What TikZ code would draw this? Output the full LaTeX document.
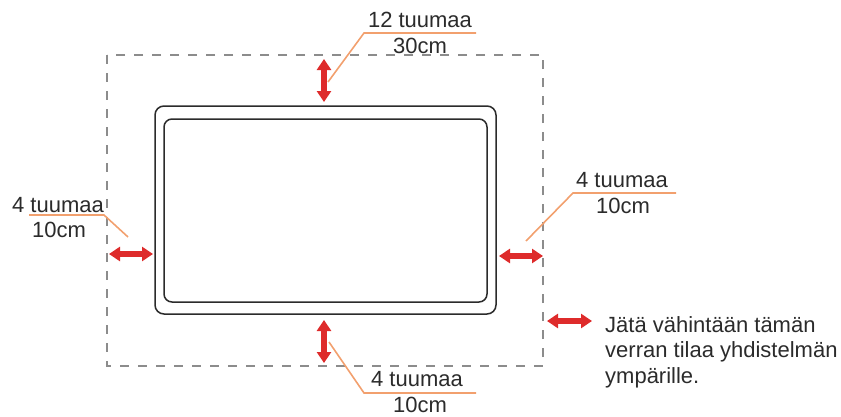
\documentclass[tikz,border=0pt]{standalone}
\usepackage{fontspec}
\setmainfont{Liberation Sans}
\usetikzlibrary{arrows.meta}

\definecolor{gapred}{HTML}{DE2B2B}
\definecolor{leaderorange}{HTML}{F2A06E}
\definecolor{dashgray}{HTML}{8C8C8C}
\definecolor{textgray}{HTML}{2B2B2B}

\tikzset{
	gaparrow/.style={draw=gapred, line width=5.5pt, {Triangle[width=14pt,length=11pt]}-{Triangle[width=14pt,length=11pt]}},
	leader/.style={draw=leaderorange, line width=1.6pt},
	dimtext/.style={text=textgray, font=\fontsize{22}{25.5}\selectfont, anchor=base, inner sep=0pt},
}

\begin{document}
\begin{tikzpicture}[x=1pt,y=-1pt]
	\useasboundingbox (0,0) rectangle (841,416);
	% free space and the unit
	\draw [dashgray, line width=2pt, dash pattern=on 9pt off 9pt] (107,55) rectangle (543,366);
	\draw [textgray, line width=1.5pt, rounded corners=9pt] (155,106) rectangle (496,314);
	\draw [textgray, line width=1.5pt, rounded corners=8pt] (164,119) rectangle (487,302);
	% top
	\coordinate (topa) at (324,59);
	\coordinate (topb) at (324,102);
	\coordinate (topleader) at (328,82);
	\coordinate (topkink) at (364,33);
	\node [dimtext] (topinch) at (420,27) {12 tuumaa};
	\node [dimtext] (topcm) at (420,53) {30cm};
	\coordinate (topend) at (476,33);
	\draw [gaparrow] (topa) -- (topb);
	\draw [leader] (topleader) -- (topkink) -- (topend);
	% left
	\coordinate (lefta) at (109,254);
	\coordinate (leftb) at (153,254);
	\coordinate (leftleader) at (128,237);
	\coordinate (leftkink) at (104,215);
	\coordinate (leftend) at (29,215);
	\node [dimtext] (leftinch) at (58,212) {4 tuumaa};
	\node [dimtext] (leftcm) at (59,237) {10cm};
	\draw [gaparrow] (lefta) -- (leftb);
	\draw [leader] (leftleader) -- (leftkink) -- (leftend);
	% right
	\coordinate (righta) at (499,256);
	\coordinate (rightb) at (543,256);
	\coordinate (rightleader) at (526,241);
	\coordinate (rightkink) at (573,193);
	\coordinate (rightend) at (676,193);
	\node [dimtext] (rightinch) at (622,187) {4 tuumaa};
	\node [dimtext] (rightcm) at (623,213) {10cm};
	\draw [gaparrow] (righta) -- (rightb);
	\draw [leader] (rightleader) -- (rightkink) -- (rightend);
	% bottom
	\coordinate (bottoma) at (324,320);
	\coordinate (bottomb) at (324,363);
	\coordinate (bottomleader) at (329,342);
	\coordinate (bottomkink) at (364,393);
	\coordinate (bottomend) at (476,393);
	\node [dimtext] (bottominch) at (417,386) {4 tuumaa};
	\node [dimtext] (bottomcm) at (420,412) {10cm};
	\draw [gaparrow] (bottoma) -- (bottomb);
	\draw [leader] (bottomleader) -- (bottomkink) -- (bottomend);
	% legend (base is the last line)
	\coordinate (keya) at (547,321);
	\coordinate (keyb) at (592,321);
	\draw [gaparrow] (keya) -- (keyb);
	\node [dimtext, anchor=base west, align=left] (keytext) at (605,383) {Jätä vähintään tämän\\verran tilaa yhdistelmän\\ympärille.};
\end{tikzpicture}
\end{document}
